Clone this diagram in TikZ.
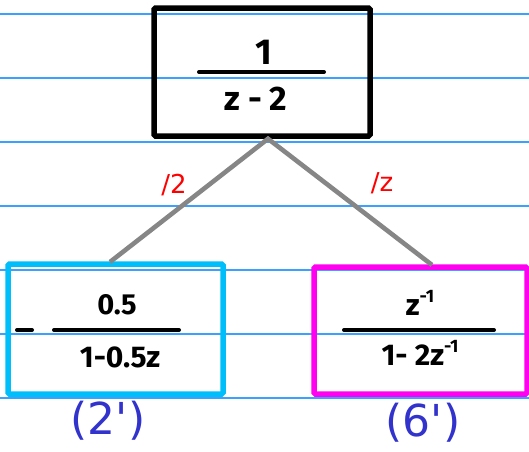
\documentclass[tikz,border=0pt]{standalone}
\usepackage{fontspec}
\usetikzlibrary{calc}
\setmainfont{DejaVu Sans}
\newfontfamily\lblfont{DejaVu Sans}[Ligatures=TeXOff]
\newfontfamily\handfont{Fira Sans}[UprightFont=* Bold]
\newcommand{\supinv}{\raisebox{0.85ex}{\fontsize{18}{18}\selectfont -1}}
\definecolor{rule}{RGB}{60,160,255}
\definecolor{boxcyan}{RGB}{0,190,250}
\definecolor{boxmag}{RGB}{255,0,240}
\definecolor{lblblue}{RGB}{50,50,205}
\begin{document}
\begin{tikzpicture}[x=1pt,y=-1pt,
  rulel/.style={rule,line width=1.2pt},
  frame/.style={draw,line width=5.5pt,rounded corners=1.5pt,minimum width=#1,inner sep=0pt},
  conn/.style={draw=gray!95,line width=4.6pt},
  hand/.style={font=\handfont\fontsize{#1}{#1}\selectfont,inner sep=0pt},
  bar/.style={line width=4pt,line cap=round},
  eqlbl/.style={font=\lblfont\fontsize{44}{46}\selectfont,text=lblblue,inner sep=0pt},
  edgelbl/.style={font=\lblfont\fontsize{26}{28}\selectfont,text=red,inner sep=0pt}]
\useasboundingbox (0,0) rectangle (529,451);
\fill[white] (0,0) rectangle (529,451);
\foreach \y in {14,78,142,206,270,334,398}
  \draw[rulel] (0,\y) -- (529,\y);
% boxes
\node[frame=216pt,minimum height=128pt] (top) at (262,72) {};
\node[frame=215pt,minimum height=130pt,draw=boxcyan] (left) at (115.5,329) {};
\node[frame=213pt,minimum height=127pt,draw=boxmag] (right) at (420.5,330.5) {};
% connectors
\coordinate (apex) at ($(top.south)+(6,0)$);
\coordinate (lend) at (110,262);
\coordinate (rend) at (432,265);
\draw[conn] (lend) -- (apex) -- (rend);
\node[edgelbl] (l2) at (174,185) {/2};
\node[edgelbl] (lz) at (382,183) {/z};
% top fraction
\draw[bar] (199,72) -- (324,72);
\node[hand=36] (tn) at (264,52) {1};
\node[hand=34] (td) at (256,99) {z - 2};
% left fraction
\draw[bar] (17,330) -- (32,330);
\draw[bar] (54,330) -- (179,330);
\node[hand=29] (ln) at (117,305) {0.5};
\node[hand=30] (ld) at (120,357) {1-0.5z};
% right fraction
\draw[bar] (344,330) -- (494,330);
\node[hand=30] (rn) at (420,303) {z\supinv};
\node[hand=30] (rd) at (420,353) {1- 2z\supinv};
% equation labels
\node[eqlbl] (e2) at (108,421) {(2')};
\node[eqlbl] (e6) at (423,423) {(6')};
\end{tikzpicture}
\end{document}
